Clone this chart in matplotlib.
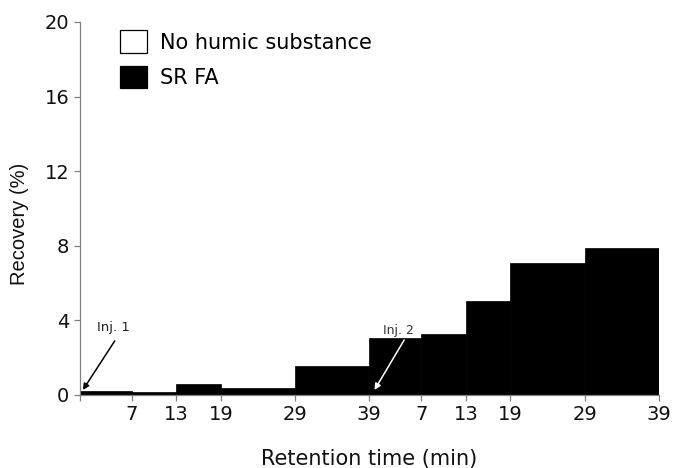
import matplotlib.pyplot as plt
from matplotlib.patches import Patch

# fraction boundaries (min), two injections back to back
edges = [0, 7, 13, 19, 29, 39, 46, 52, 58, 68, 78]
tick_labels = ["7", "13", "19", "29", "39", "7", "13", "19", "29", "39"]
srfa_recovery = [0.2, 0.15, 0.6, 0.37, 1.55, 3.03, 3.25, 5.05, 7.1, 7.88]

fig = plt.figure(figsize=(6.77, 4.68), dpi=100)
ax = fig.add_axes([0.118, 0.156, 0.855, 0.797])

lefts = edges[:-1]
widths = [b - a for a, b in zip(edges[:-1], edges[1:])]
ax.bar(lefts, srfa_recovery, width=widths, align="edge",
       color="black", edgecolor="black", linewidth=0.5)

ax.set_xlim(0, 78)
ax.set_ylim(0, 20)
ax.set_xticks(edges)
ax.set_xticklabels([""] + tick_labels)
ax.set_yticks([0, 4, 8, 12, 16, 20])

for s in ["top", "right"]:
    ax.spines[s].set_visible(False)
for s in ["left", "bottom"]:
    ax.spines[s].set_color("#808080")
    ax.spines[s].set_linewidth(0.9)
ax.tick_params(direction="out", length=4.5, width=0.9, color="#808080",
               labelsize=14, labelcolor="#111111", pad=3)

ax.set_xlabel("Retention time (min)", fontsize=15, color="#111111", labelpad=18)
ax.set_ylabel("Recovery (%)", fontsize=14.5, color="#111111",
              family="Liberation Sans")
ax.yaxis.set_label_coords(-0.088, 0.46)

# injection markers
ax.annotate("", xy=(0.4, 0.27), xytext=(4.7, 2.9),
            arrowprops=dict(arrowstyle="-|>", color="black", lw=1.1,
                            mutation_scale=9, shrinkA=0, shrinkB=0))
ax.text(2.3, 3.6, "Inj. 1", fontsize=9.5, color="#222222", va="center")
ax.annotate("", xy=(39.7, 0.27), xytext=(43.7, 2.95),
            arrowprops=dict(arrowstyle="-|>", color="white", lw=1.1,
                            mutation_scale=9, shrinkA=0, shrinkB=0))
ax.text(40.9, 3.45, "Inj. 2", fontsize=9, color="#333333", va="center",
        bbox=dict(facecolor="white", edgecolor="none", pad=0.3))

handles = [Patch(facecolor="white", edgecolor="black", linewidth=0.9),
           Patch(facecolor="black", edgecolor="black", linewidth=0.9)]
ax.legend(handles, ["No humic substance", "SR FA"], loc="upper left",
          bbox_to_anchor=(0.150, 0.975), bbox_transform=fig.transFigure,
          frameon=False, fontsize=15, handlelength=1.3, handleheight=1.3,
          handletextpad=0.6, labelspacing=0.6, borderpad=0.4)

fig.savefig("out.png", dpi=100)
